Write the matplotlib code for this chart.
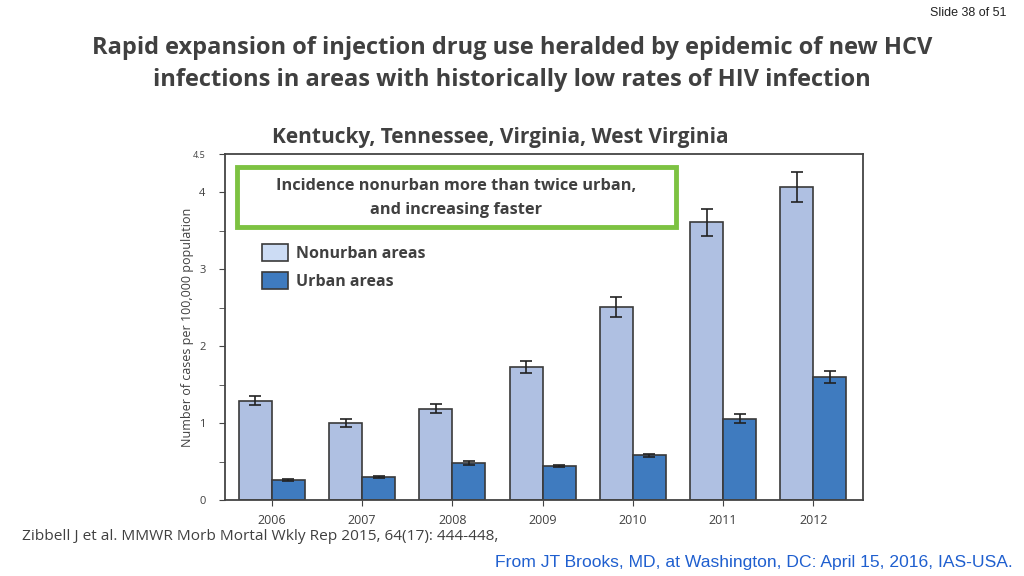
import numpy as np
import matplotlib.pyplot as plt
from matplotlib.patches import Rectangle, Patch

plt.rcParams.update({
    'font.family': ['Open Sans', 'DejaVu Sans'],
})

# Data
years = ['2006', '2007', '2008', '2009', '2010', '2011', '2012']
nonurban = [1.29, 1.00, 1.19, 1.73, 2.51, 3.61, 4.07]
nonurban_err = [0.06, 0.05, 0.06, 0.08, 0.13, 0.18, 0.20]
urban = [0.26, 0.30, 0.485, 0.44, 0.58, 1.06, 1.60]
urban_err = [0.01, 0.01, 0.025, 0.015, 0.025, 0.055, 0.075]

C_NONURBAN = '#AFC0E2'
C_NONURBAN_LEG = '#CCDCF4'
C_URBAN = '#3F7BBF'
EDGE = '#3A3A3A'
TXT = '#404040'

fig = plt.figure(figsize=(10.24, 5.76), dpi=100)
ax = fig.add_axes([0.2197, 0.1319, 0.623, 0.6007])

x = np.arange(len(years))
w = 0.366
ax.bar(x - w / 2, nonurban, w, color=C_NONURBAN, edgecolor=EDGE, linewidth=1.2,
       yerr=nonurban_err, capsize=4, error_kw=dict(ecolor='#222222', elinewidth=1.2, capthick=1.2))
ax.bar(x + w / 2, urban, w, color=C_URBAN, edgecolor=EDGE, linewidth=1.2,
       yerr=urban_err, capsize=4, error_kw=dict(ecolor='#222222', elinewidth=1.2, capthick=1.2))

ax.set_xlim(-0.52, 6.55)
ax.set_ylim(0, 4.5)
ax.set_xticks(x)
ax.set_xticklabels(years, fontsize=9, color=TXT)
ax.set_yticks([0, 1, 2, 3, 4, 4.5])
ax.set_yticklabels(['0', '1', '2', '3', '4', '4.5'], fontsize=8, color=TXT)
ax.yaxis.get_ticklabels()[-1].set_fontsize(6.5)
ax.set_yticks([0.5, 1.5, 2.5, 3.5], minor=True)
ax.tick_params(axis='y', which='both', direction='out', length=4, color='#444444', pad=10)
ax.tick_params(axis='x', direction='out', length=4, color='#444444', pad=6)
for s in ax.spines.values():
    s.set_color('#444444')
    s.set_linewidth(1.3)
ax.set_ylabel('Number of cases per 100,000 population', fontsize=9, color=TXT, labelpad=-1)

# legend
handles = [Patch(facecolor=C_NONURBAN_LEG, edgecolor=EDGE, linewidth=1.2, label='Nonurban areas'),
           Patch(facecolor=C_URBAN, edgecolor=EDGE, linewidth=1.2, label='Urban areas')]
leg = ax.legend(handles=handles, loc='upper left', bbox_to_anchor=(0.048, 0.758), frameon=False,
                prop={'weight': 'bold', 'size': 11.5}, handlelength=1.6, handleheight=1.25,
                handletextpad=0.5, labelspacing=0.62, borderaxespad=0)
for t in leg.get_texts():
    t.set_color(TXT)

# green callout
fig.patches.append(Rectangle((237 / 1024, 1 - 227 / 576), (676 - 237) / 1024, 60 / 576,
                             transform=fig.transFigure, facecolor='white', edgecolor='#7DC242',
                             linewidth=3.5, zorder=5))
fig.text(456.5 / 1024, 1 - 198 / 576, 'Incidence nonurban more than twice urban,\nand increasing faster',
         ha='center', va='center', fontsize=11.8, fontweight='bold', color=TXT,
         linespacing=1.6, zorder=6)

# titles and notes
fig.text(0.5, 1 - 64 / 576,
         'Rapid expansion of injection drug use heralded by epidemic of new HCV\n'
         'infections in areas with historically low rates of HIV infection',
         ha='center', va='center', fontsize=17, fontweight='bold', color=TXT, linespacing=1.4)
fig.text(500 / 1024, 1 - 137 / 576, 'Kentucky, Tennessee, Virginia, West Virginia',
         ha='center', va='center', fontsize=15, fontweight='bold', color=TXT)
fig.text(1007 / 1024, 1 - 13 / 576, 'Slide 38 of 51', ha='right', va='center', fontsize=9,
         color='#222222', family=['Liberation Sans Narrow', 'Liberation Sans', 'DejaVu Sans'])
fig.text(22 / 1024, 1 - 537 / 576, 'Zibbell J et al. MMWR Morb Mortal Wkly Rep 2015, 64(17): 444-448,',
         ha='left', va='center', fontsize=11.1, color=TXT)
fig.text(1013 / 1024, 1 - 562 / 576, 'From JT Brooks, MD, at Washington, DC: April 15, 2016, IAS-USA.',
         ha='right', va='center', fontsize=12.6, color='#1F5FCF',
         family=['Liberation Sans Narrow', 'Liberation Sans', 'DejaVu Sans'])

fig.savefig('out.png', dpi=100)
